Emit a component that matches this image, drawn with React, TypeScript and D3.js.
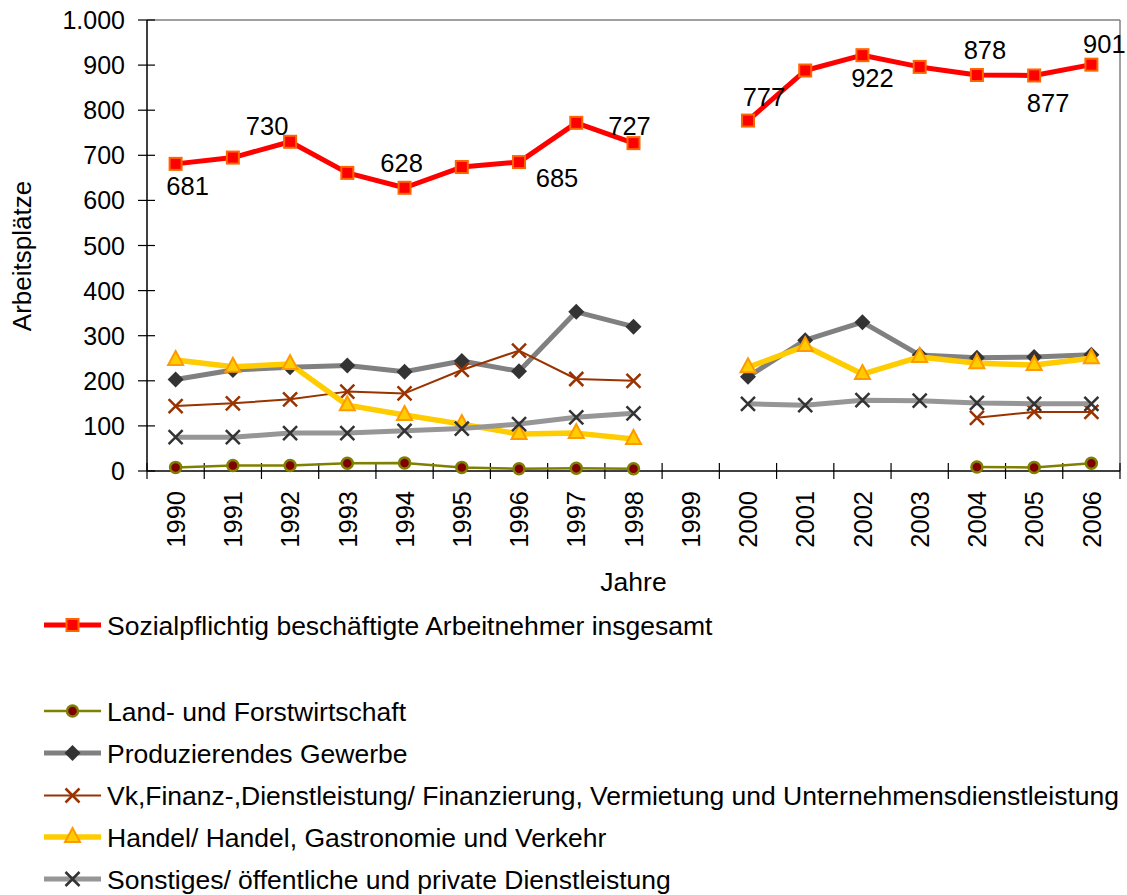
import React from "react";
import * as d3 from "d3";

const years = ["1990","1991","1992","1993","1994","1995","1996","1997","1998","1999","2000","2001","2002","2003","2004","2005","2006"];
const yTicks = [0,100,200,300,400,500,600,700,800,900,1000];

const gesamt = [681,695,730,661,628,674,685,772,727,null,777,888,922,896,878,877,901];
const land = [8,12,12,17,18,8,5,6,5,null,null,null,null,null,9,8,17];
const produz = [203,224,230,234,220,244,221,353,320,null,209,290,330,257,251,253,258];
const vk = [144,150,159,176,172,224,267,204,200,null,null,null,null,null,118,131,131];
const handel = [246,231,237,146,124,104,82,84,71,null,230,277,215,253,239,235,250];
const sonst = [75,75,84,84,89,94,104,119,128,null,149,146,157,156,151,149,149];

const labelYears = ["1990","1992","1994","1996","1998","2000","2002","2004","2005","2006"];
const labelOffsets = [[12,22],[-23,-16],[-3,-25],[38,16],[-4,-17],[16,-24],[10,23],[8,-25],[14,27],[13,-21]];

type Marker = "square" | "circle" | "diamond" | "x" | "triangle";
interface S { name: string; values: (number|null)[]; line: string; width: number; marker: Marker; fill: string; stroke: string; }

const series: S[] = [
  { name: "Sozialpflichtig beschäftigte Arbeitnehmer insgesamt", values: gesamt, line: "#FF0000", width: 5, marker: "square", fill: "#FF0000", stroke: "#FF6600" },
  { name: "Land- und Forstwirtschaft", values: land, line: "#808000", width: 2.5, marker: "circle", fill: "#800000", stroke: "#808000" },
  { name: "Produzierendes Gewerbe", values: produz, line: "#808080", width: 5, marker: "diamond", fill: "#333333", stroke: "#333333" },
  { name: "Vk,Finanz-,Dienstleistung/ Finanzierung, Vermietung und Unternehmensdienstleistung", values: vk, line: "#993300", width: 2, marker: "x", fill: "none", stroke: "#993300" },
  { name: "Handel/ Handel, Gastronomie und Verkehr", values: handel, line: "#FFCC00", width: 5.5, marker: "triangle", fill: "#FFCC00", stroke: "#FF9900" },
  { name: "Sonstiges/ öffentliche und private Dienstleistung", values: sonst, line: "#969696", width: 5, marker: "x", fill: "none", stroke: "#333333" },
];

const FONT = "'Liberation Sans', Arial, sans-serif";
const L = 147, R = 1120, T = 20, B = 471;

function MarkerShape({ m, x, y, fill, stroke }: { m: Marker; x: number; y: number; fill: string; stroke: string }) {
  switch (m) {
    case "square":
      return <rect x={x - 6} y={y - 6} width={12} height={12} fill={fill} stroke={stroke} strokeWidth={2} />;
    case "circle":
      return <circle cx={x} cy={y} r={5.5} fill={fill} stroke={stroke} strokeWidth={2.5} />;
    case "diamond":
      return <path d={`M${x},${y - 8}L${x + 8},${y}L${x},${y + 8}L${x - 8},${y}Z`} fill={fill} />;
    case "triangle":
      return <path d={`M${x},${y - 9}L${x + 7.5},${y + 5}L${x - 7.5},${y + 5}Z`} fill={fill} stroke={stroke} strokeWidth={2} strokeLinejoin="miter" />;
    case "x":
      return <path d={`M${x - 7},${y - 7}L${x + 7},${y + 7}M${x - 7},${y + 7}L${x + 7},${y - 7}`} stroke={stroke} strokeWidth={2.5} fill="none" />;
  }
}

export default function App() {
  const x = d3.scaleBand<string>().domain(years).range([L, R]).paddingInner(0).paddingOuter(0);
  const y = d3.scaleLinear().domain([0, 1000]).range([B, T]);
  const cx = (yr: string) => (x(yr) as number) + x.bandwidth() / 2;
  const fmt = (v: number) => (v >= 1000 ? d3.format(",")(v).replace(",", ".") : String(v));

  const lineGen = d3.line<number | null>()
    .defined((d) => d != null)
    .x((_, i) => cx(years[i]))
    .y((d) => y(d as number));

  const legendRows = [625, 711, 753, 795.5, 837, 879];

  return (
    <svg width={1127} height={895} style={{ position: "absolute", left: 0, top: 0, background: "#fff" }} fontFamily={FONT}>
      {/* frame */}
      <line x1={L} y1={T} x2={R} y2={T} stroke="#808080" strokeWidth={1.5} />
      <line x1={R} y1={T} x2={R} y2={B} stroke="#808080" strokeWidth={1.5} />
      {/* y axis */}
      <line x1={L} y1={T} x2={L} y2={B} stroke="#000" strokeWidth={1.5} />
      {yTicks.map((t) => (
        <g key={t}>
          <line x1={L - 9} x2={L + 8} y1={y(t)} y2={y(t)} stroke="#000" strokeWidth={1.2} />
          <text x={125} y={y(t)} dy="0.36em" textAnchor="end" fontSize={25} fill="#000">{fmt(t)}</text>
        </g>
      ))}
      {/* x axis */}
      <line x1={L} y1={B} x2={R} y2={B} stroke="#000" strokeWidth={1.5} />
      {years.concat(["end"]).map((yr, i) => {
        const xx = i < years.length ? (x(yr) as number) : R;
        return <line key={"t" + i} x1={xx} x2={xx} y1={B - 8} y2={B + 8} stroke="#000" strokeWidth={1.2} />;
      })}
      {years.map((yr) => (
        <text key={yr} transform={`translate(${cx(yr)},${491}) rotate(-90)`} dy="0.36em" textAnchor="end" fontSize={25.5} fill="#000">{yr}</text>
      ))}
      <text x={(L + R) / 2} y={591} textAnchor="middle" fontSize={26.5} fill="#000">Jahre</text>
      <text transform={`translate(31,256) rotate(-90)`} textAnchor="middle" fontSize={26} fill="#000">Arbeitsplätze</text>

      {/* series */}
      {series.map((s, si) => (
        <g key={si}>
          <path d={lineGen(s.values) || ""} fill="none" stroke={s.line} strokeWidth={s.width} strokeLinejoin="round" />
          {s.values.map((v, i) =>
            v == null ? null : <MarkerShape key={i} m={s.marker} x={cx(years[i])} y={y(v)} fill={s.fill} stroke={s.stroke} />
          )}
        </g>
      ))}

      {/* data labels */}
      {labelYears.map((yr, k) => {
        const i = years.indexOf(yr);
        const v = gesamt[i] as number;
        return (
          <text key={yr} x={cx(yr) + labelOffsets[k][0]} y={y(v) + labelOffsets[k][1]} dy="0.36em" textAnchor="middle" fontSize={25.5} fill="#000">{v}</text>
        );
      })}

      {/* legend */}
      {series.map((s, si) => {
        const ly = legendRows[si];
        return (
          <g key={"lg" + si}>
            <line x1={44} x2={101} y1={ly} y2={ly} stroke={s.line} strokeWidth={s.width} />
            <MarkerShape m={s.marker} x={72.5} y={ly} fill={s.fill} stroke={s.stroke} />
            <text x={107} y={ly} dy="0.36em" fontSize={26.5} fill="#000">{s.name}</text>
          </g>
        );
      })}
    </svg>
  );
}
